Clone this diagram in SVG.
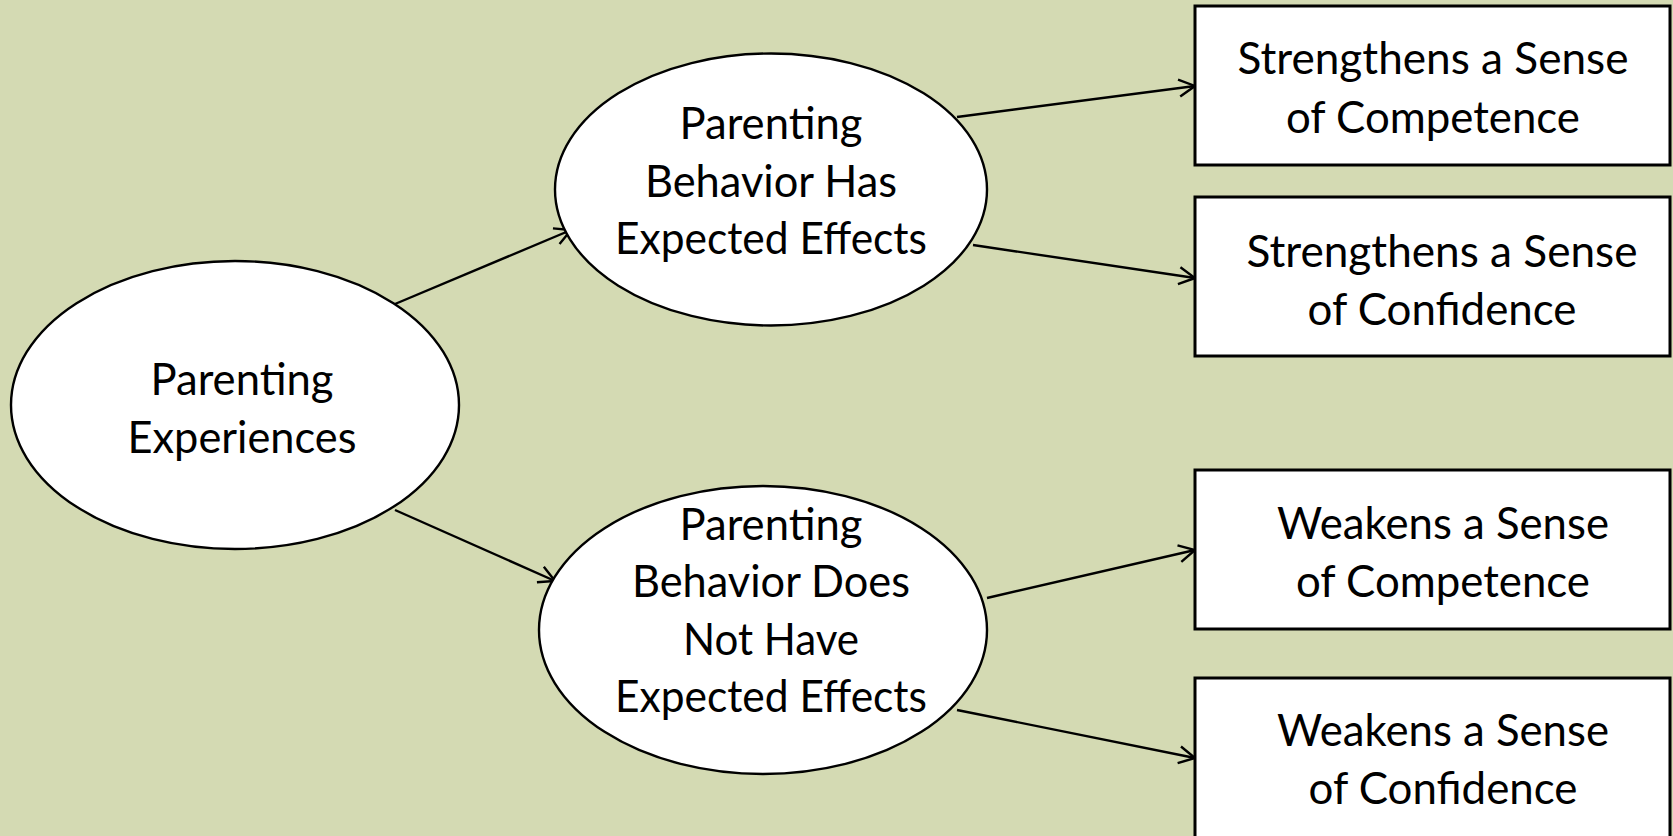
<svg xmlns="http://www.w3.org/2000/svg" width="1673" height="836" viewBox="0 0 1673 836">
<style>
.bg{fill:#D4DAB3}
.shape{fill:#FFFFFF;stroke:#000000;stroke-width:2.4}
.box{fill:#FFFFFF;stroke:#000000;stroke-width:3}
.lbl{font-family:Lato,"Open Sans","Liberation Sans",sans-serif;font-size:45px;fill:#000000;text-anchor:middle}
.conn{stroke:#000000;stroke-width:2.4;fill:none;marker-end:url(#arr)}
</style>
<defs>
<marker id="arr" markerUnits="userSpaceOnUse" markerWidth="24" markerHeight="24" viewBox="0 0 24 24" refX="21" refY="12" orient="auto">
<path d="M5,3.5 L21,12 L5,20.5" fill="none" stroke="#000000" stroke-width="2.4"/>
</marker>
</defs>
<rect class="bg" x="0" y="0" width="1673" height="836"/>
<g id="connectors">
<line class="conn" x1="395" y1="304" x2="571" y2="230"/>
<line class="conn" x1="395" y1="510" x2="555" y2="581"/>
<line class="conn" x1="957" y1="117" x2="1195" y2="86"/>
<line class="conn" x1="973" y1="245" x2="1195" y2="278"/>
<line class="conn" x1="987" y1="598" x2="1195" y2="550"/>
<line class="conn" x1="957" y1="710" x2="1195" y2="758"/>
</g>
<g id="parenting-experiences">
<ellipse class="shape" cx="235" cy="405" rx="224" ry="144"/>
<text class="lbl" x="242" y="395" textLength="183" lengthAdjust="spacingAndGlyphs">Parenting</text>
<text class="lbl" x="242" y="453" textLength="229" lengthAdjust="spacingAndGlyphs">Experiences</text>
</g>
<g id="has-expected-effects">
<ellipse class="shape" cx="771" cy="189.5" rx="216" ry="136"/>
<text class="lbl" x="771" y="139" textLength="183" lengthAdjust="spacingAndGlyphs">Parenting</text>
<text class="lbl" x="771" y="197" textLength="252" lengthAdjust="spacingAndGlyphs">Behavior Has</text>
<text class="lbl" x="771" y="254" textLength="312" lengthAdjust="spacingAndGlyphs">Expected Effects</text>
</g>
<g id="not-expected-effects">
<ellipse class="shape" cx="763" cy="630" rx="224" ry="144"/>
<text class="lbl" x="771" y="540" textLength="183" lengthAdjust="spacingAndGlyphs">Parenting</text>
<text class="lbl" x="771" y="597" textLength="278" lengthAdjust="spacingAndGlyphs">Behavior Does</text>
<text class="lbl" x="771" y="655" textLength="176" lengthAdjust="spacingAndGlyphs">Not Have</text>
<text class="lbl" x="771" y="712" textLength="312" lengthAdjust="spacingAndGlyphs">Expected Effects</text>
</g>
<g id="strengthens-competence">
<rect class="box" x="1195" y="6" width="475" height="159"/>
<text class="lbl" x="1433" y="74" textLength="391" lengthAdjust="spacingAndGlyphs">Strengthens a Sense</text>
<text class="lbl" x="1433" y="133" textLength="294" lengthAdjust="spacingAndGlyphs">of Competence</text>
</g>
<g id="strengthens-confidence">
<rect class="box" x="1195" y="197" width="475" height="159"/>
<text class="lbl" x="1442" y="267" textLength="391" lengthAdjust="spacingAndGlyphs">Strengthens a Sense</text>
<text class="lbl" x="1442" y="325" textLength="269" lengthAdjust="spacingAndGlyphs">of Confidence</text>
</g>
<g id="weakens-competence">
<rect class="box" x="1195" y="470" width="475" height="159"/>
<text class="lbl" x="1443" y="539" textLength="332" lengthAdjust="spacingAndGlyphs">Weakens a Sense</text>
<text class="lbl" x="1443" y="597" textLength="294" lengthAdjust="spacingAndGlyphs">of Competence</text>
</g>
<g id="weakens-confidence">
<rect class="box" x="1195" y="678" width="475" height="170"/>
<text class="lbl" x="1443" y="746" textLength="332" lengthAdjust="spacingAndGlyphs">Weakens a Sense</text>
<text class="lbl" x="1443" y="804" textLength="269" lengthAdjust="spacingAndGlyphs">of Confidence</text>
</g>
</svg>
